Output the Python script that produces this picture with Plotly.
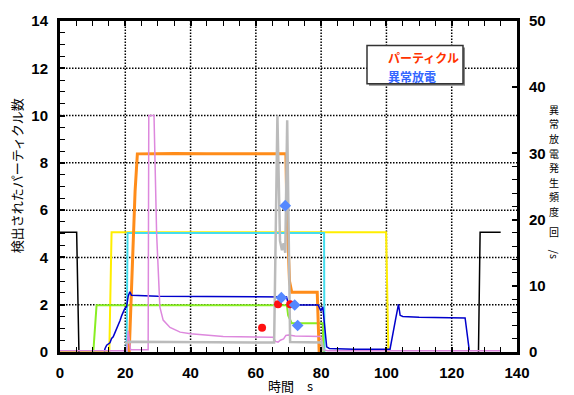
import plotly.graph_objects as go

# ---------------- data ----------------
black_t = [0, 5.1, 5.8, None, 128.2, 128.7, 135.0]
black_v = [5.07, 5.07, 0, None, 0, 5.07, 5.07]

yellow_t = [0, 15.1, 15.8, 99.9, 100.6, 101.0]
yellow_v = [0, 0, 5.07, 5.07, 0, 0]

cyan_t = [20.4, 20.7, 80.9, 81.0]
cyan_v = [0, 5.03, 5.03, 0]

green_t = [10.2, 11.2, 69.5, 69.9, 71.0, 80.5, 80.7]
green_v = [0, 1.98, 1.98, 1.55, 1.22, 1.22, 0]

blue_t = [13.6, 13.8, 14.3, 15.3, 15.8, 16.3, 16.9, 17.4, 17.9, 18.4, 18.9, 19.4, 19.9, 20.4,
          20.9, 21.4, 21.9, 30, 43, 55, 65, 69.4, 70.0, 79.1, 79.9, 80.5, 81.7, 82.5, 90,
          101.1, 102.9, 103.7, 104.2, 105.0, 110, 118, 124.1, 125.4]
blue_v = [0.02, 0.15, 0.29, 0.39, 0.57, 0.64, 0.84, 0.98, 1.16, 1.33, 1.54, 1.68, 1.85, 1.91,
          2.37, 2.55, 2.4, 2.36, 2.34, 2.33, 2.33, 2.33, 1.99, 1.99, 1.74, 1.91, 0.22, 0.15, 0.12,
          0.12, 1.45, 2.02, 1.55, 1.5, 1.47, 1.45, 1.44, 0.05]

orange_t = [21.2, 21.6, 22.0, 22.5, 23.0, 23.7, 35, 45, 55, 60, 69.2, 69.5, 70.3, 71.0, 78.8, 79.4]
orange_v = [0, 1.5, 3.2, 5.0, 6.8, 8.38, 8.4, 8.38, 8.38, 8.38, 8.38, 6.0, 3.0, 2.53, 2.53, 0]

magenta_t = [0, 20.5, 20.9, 21.3, 21.6, 27.0, 27.2, 28.8, 29.6, 30.6, 31.6, 33.7, 36.8, 40, 43,
             50, 55, 60, 65.3, 66.0, 66.8, 67.5, 68.5, 69.2, 70, 72, 75, 79.9, 80.5, 82, 135]
magenta_v = [0.05, 0.05, 0.9, 0.3, 0.1, 0.1, 10, 10, 5, 1.9, 1.35, 1.04, 0.84, 0.77, 0.73,
             0.66, 0.64, 0.63, 0.62, 0.45, 0.42, 0.5, 0.55, 0.7, 0.72, 0.68, 0.67, 0.66, 0.1, 0.05, 0.05]

gray_t = [20.0, 21.4, 65.6, 66.6, 67.4, 68.0, 68.5, 69.0, 69.6, 70.5, 80.2, 80.8]
gray_v = [0.37, 0.43, 0.4, 10.0, 4.7, 4.3, 4.6, 4.2, 9.8, 0.42, 0.4, 0.02]

red_t = [61.9, 66.8, 70.5]
red_v = [1.03, 2.02, 2.02]

diamond_t = [67.8, 69.0, 71.9, 72.8]
diamond_v = [8.2, 22.1, 7.1, 4.0]   # right axis (異常放電発生頻度)

x_ticks = [0, 20, 40, 60, 80, 100, 120, 140]
y_ticks = [0, 2, 4, 6, 8, 10, 12, 14]
y2_ticks = [0, 10, 20, 30, 40, 50]

# ---------------- figure ----------------
fig = go.Figure()

def line(t, v, color, width):
    fig.add_trace(go.Scatter(x=t, y=v, mode="lines", line=dict(color=color, width=width),
                             showlegend=False, hoverinfo="skip", connectgaps=False))

line(yellow_t, yellow_v, "#ffee00", 2)
line(cyan_t, cyan_v, "#44ddee", 2)
line(black_t, black_v, "#000000", 1.5)
line(green_t, green_v, "#88ee22", 2)
line(orange_t, orange_v, "#ff8c1a", 3)
line(blue_t, blue_v, "#0000cc", 1.5)
line(magenta_t, magenta_v, "#dd88dd", 1.5)
line(gray_t, gray_v, "#bbbbbb", 2.5)

fig.add_trace(go.Scatter(x=red_t, y=red_v, mode="markers",
                         marker=dict(color="#ff1111", size=8), showlegend=False, hoverinfo="skip"))
fig.add_trace(go.Scatter(x=diamond_t, y=diamond_v, mode="markers", yaxis="y2",
                         marker=dict(color="#5588ff", size=9, symbol="diamond"),
                         showlegend=False, hoverinfo="skip"))

tickfont = dict(family="Liberation Sans, Arial", size=15, color="black", weight="bold")

fig.update_layout(
    width=574, height=395,
    margin=dict(l=60, r=57, t=15, b=43),
    paper_bgcolor="white", plot_bgcolor="white",
    showlegend=False,
    xaxis=dict(range=[0, 140], tickvals=x_ticks, ticks="inside", ticklen=5, tickwidth=1.5,
               tickcolor="black", showline=True, linewidth=3, linecolor="black",
               mirror="allticks", showgrid=False, zeroline=False, tickfont=tickfont,
               ticklabelstandoff=5,
               minor=dict(dtick=5, ticks="inside", ticklen=5, tickcolor="black", tickwidth=1.2,
                          showgrid=False)),
    yaxis=dict(range=[0, 14], tickvals=y_ticks, ticks="inside", ticklen=5, tickwidth=1.5,
               tickcolor="black", showline=True, linewidth=3, linecolor="black",
               mirror=False, showgrid=False, zeroline=False, tickfont=tickfont,
               ticklabelstandoff=6,
               minor=dict(dtick=0.5, ticks="inside", ticklen=5, tickcolor="black", tickwidth=1.2,
                          showgrid=False)),
    yaxis2=dict(range=[0, 50], tickvals=y2_ticks, overlaying="y", side="right",
                ticks="inside", ticklen=5, tickwidth=1.5, tickcolor="black",
                showline=True, linewidth=3, linecolor="black", showgrid=False,
                zeroline=False, tickfont=tickfont, ticklabelstandoff=6,
                minor=dict(tickmode="array", tickvals=list(range(2, 30, 2)), ticks="inside",
                           ticklen=5, tickcolor="black", tickwidth=1.2, showgrid=False)),
)

# dotted grid lines at the major tick positions
grid_style = dict(color="black", width=1.5, dash="1.5px,1.5px")
for xv in x_ticks[1:-1]:
    fig.add_shape(type="line", xref="x", yref="paper", x0=xv, x1=xv, y0=0, y1=1,
                  line=grid_style, layer="below")
for yv in y_ticks[1:-1]:
    fig.add_shape(type="line", xref="paper", yref="y", x0=0, x1=1, y0=yv, y1=yv,
                  line=grid_style, layer="below")

cjk = "Noto Sans CJK JP"

# axis titles
fig.add_annotation(text="検出されたパーティクル数", xref="paper", yref="paper",
                   x=-44/457, y=(352-173)/337, textangle=-90, showarrow=False,
                   font=dict(family=cjk, size=13, color="black"), xanchor="center", yanchor="middle")
fig.add_annotation(text="時間　s", xref="paper", yref="paper", x=(290-60)/457, y=(352-386)/337,
                   showarrow=False, font=dict(family=cjk, size=13, color="black"),
                   xanchor="center", yanchor="middle")

# right-axis title written vertically (tategaki), one glyph per line
rx = (554-60)/457
right_chars = ["異", "常", "放", "電", "発", "生", "頻", "度"]
for i, ch in enumerate(right_chars):
    py = 105 + i * 14.8
    fig.add_annotation(text=ch, xref="paper", yref="paper", x=rx, y=(352-py)/337,
                       showarrow=False, font=dict(family=cjk, size=10, color="black"),
                       xanchor="center", yanchor="middle", borderpad=0)
fig.add_annotation(text="回", xref="paper", yref="paper", x=rx, y=(352-229)/337,
                   showarrow=False, font=dict(family=cjk, size=10, color="black"),
                   xanchor="center", yanchor="middle", borderpad=0)
fig.add_annotation(text="/s", xref="paper", yref="paper", x=rx, y=(352-252)/337,
                   showarrow=False, textangle=90, font=dict(family=cjk, size=10.5, color="black"),
                   xanchor="center", yanchor="middle", borderpad=0)

# legend box
fig.add_shape(type="rect", xref="paper", yref="paper",
              x0=(369-60)/457, x1=(465-60)/457, y0=(352-81)/337, y1=(352-42)/337,
              line=dict(color="#888888", width=0), fillcolor="#888888", layer="above")
fig.add_shape(type="rect", xref="paper", yref="paper",
              x0=(367-60)/457, x1=(463-60)/457, y0=(352-79)/337, y1=(352-40)/337,
              line=dict(color="#333333", width=1.5), fillcolor="white", layer="above")
fig.add_annotation(text="<b>パーティクル</b>", xref="paper", yref="paper", x=(386-60)/457,
                   y=(352-52)/337, showarrow=False, xanchor="left", yanchor="middle",
                   font=dict(family=cjk, size=12, color="#ff3300"))
fig.add_annotation(text="<b>異常放電</b>", xref="paper", yref="paper", x=(386-60)/457,
                   y=(352-71)/337, showarrow=False, xanchor="left", yanchor="middle",
                   font=dict(family=cjk, size=12, color="#3366ff"))

fig.write_html("out.html")
